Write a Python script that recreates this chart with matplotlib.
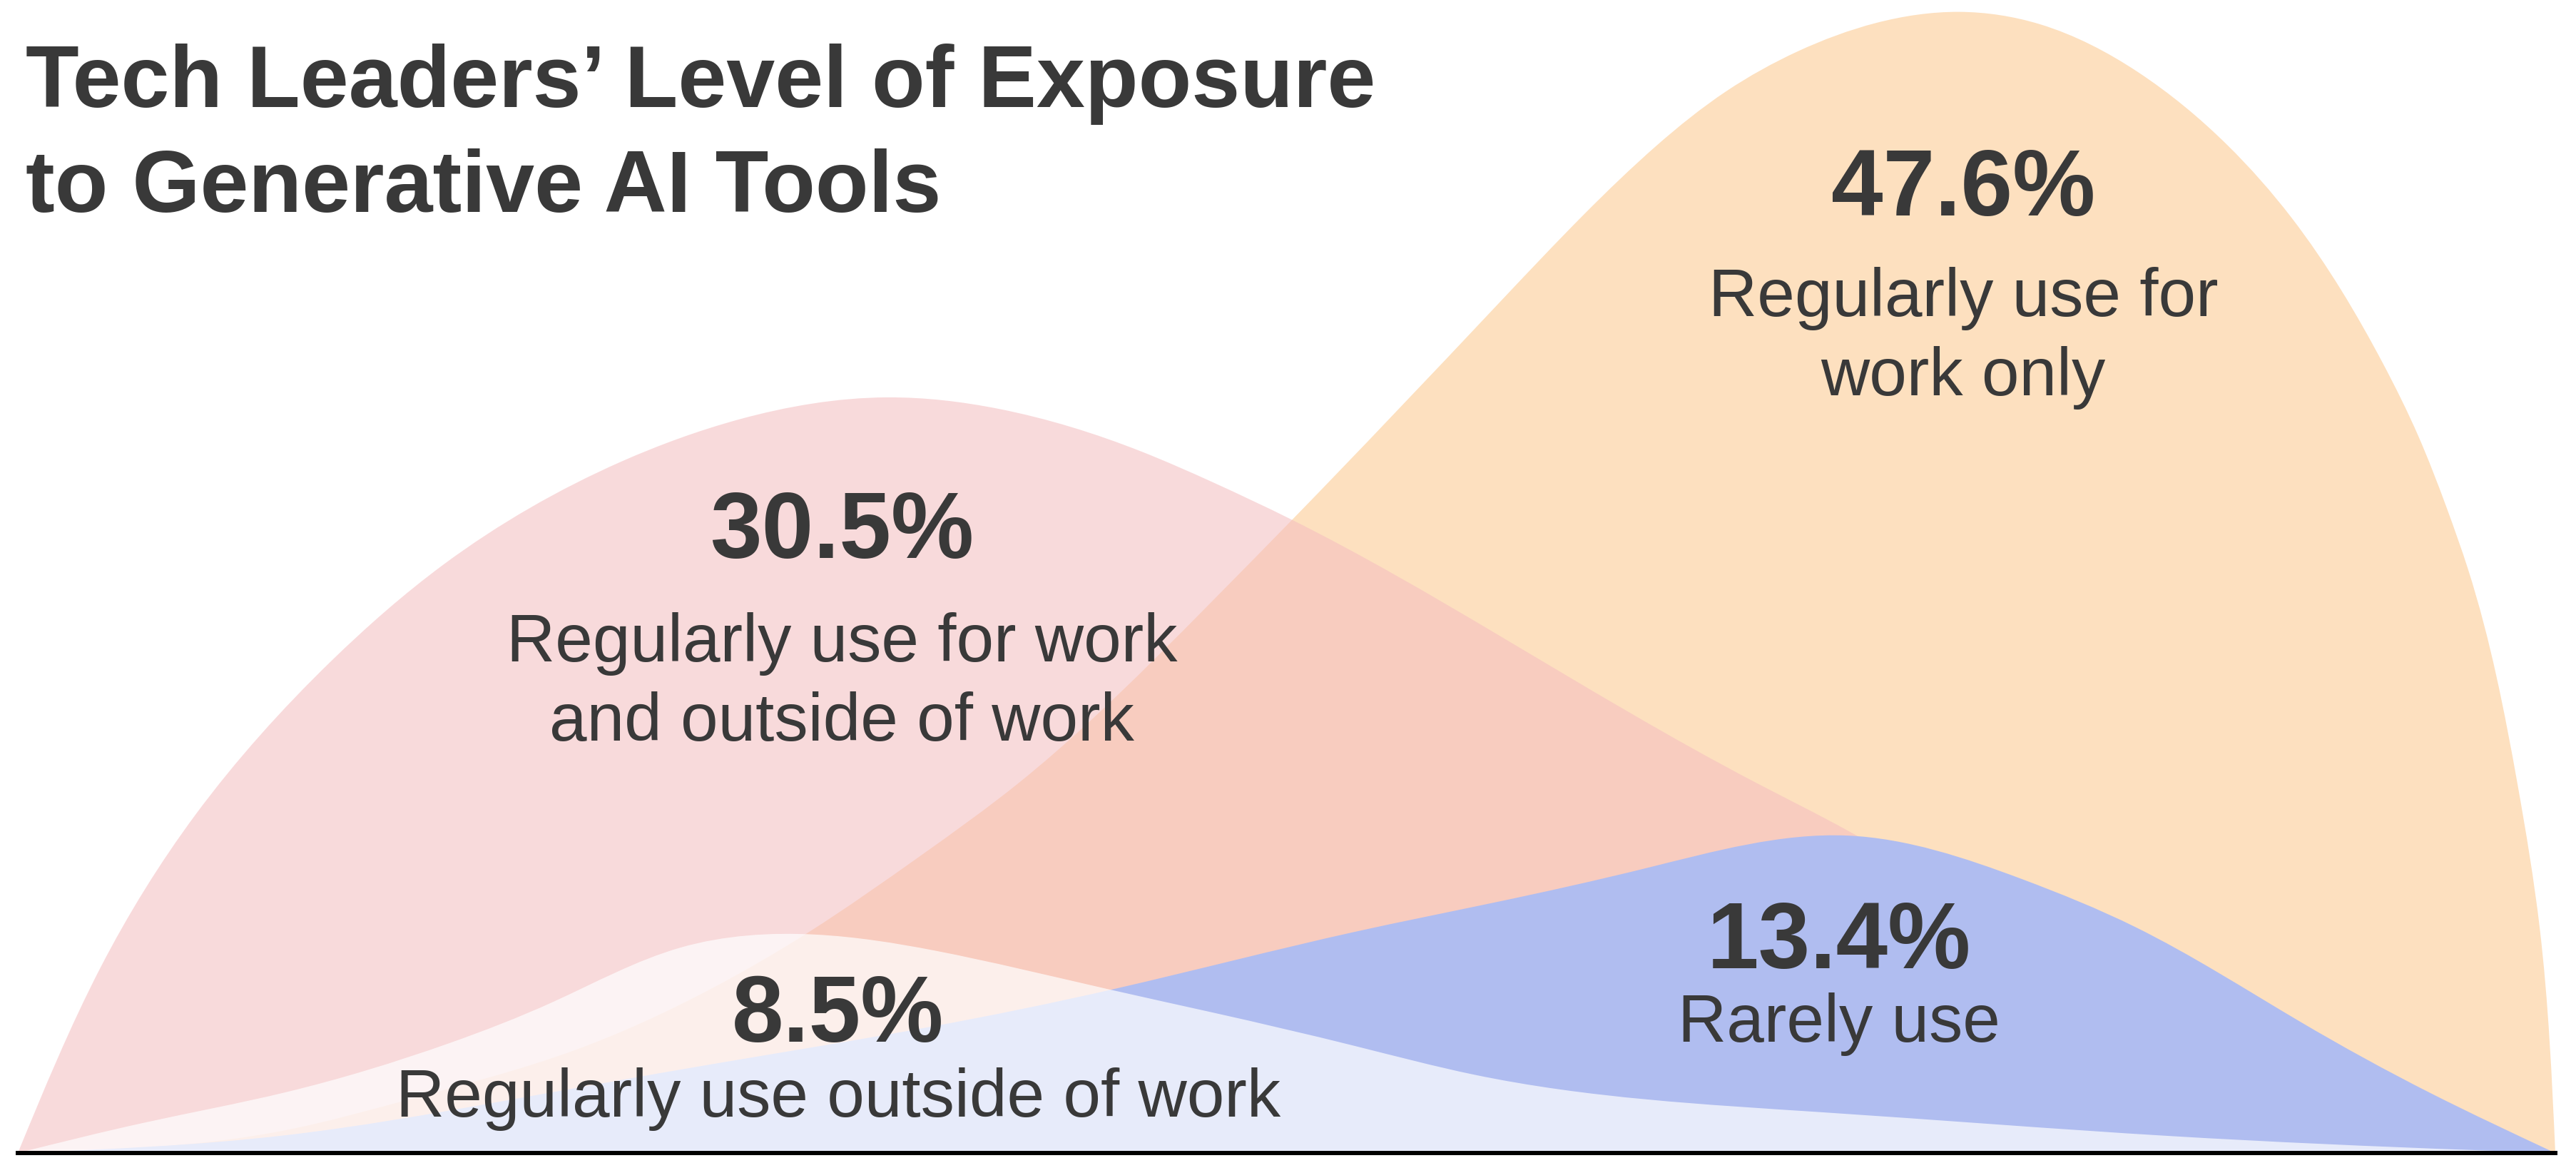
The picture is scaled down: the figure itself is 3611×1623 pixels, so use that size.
import numpy as np
import matplotlib
matplotlib.use("Agg")
import matplotlib.pyplot as plt
from matplotlib.path import Path
from matplotlib.patches import PathPatch

plt.rcParams['font.family'] = ['Liberation Sans', 'DejaVu Sans']

# ---------------- data ----------------
title_lines = ["Tech Leaders\u2019 Level of Exposure", "to Generative AI Tools"]

categories = ["Regularly use for\nwork only",
              "Regularly use for work\nand outside of work",
              "Rarely use",
              "Regularly use outside of work"]
values = [47.6, 30.5, 13.4, 8.5]

# curve outlines (x: 0-100 along the baseline, y: % scale)
orange_x = [0, 10.54, 15.6, 21.79, 27.41, 31.15, 35.59, 39.39, 42.31, 47.09, 50.18, 58.34, 61.71, 64.58, 67.33,
            70.14, 73.24, 76.5, 79.70, 83.55, 87.07, 89.60, 91.57, 93.20, 94.60, 95.73, 96.57, 98.51, 99.38, 100]
orange_y = [0, 0.95, 2.29, 4.23, 6.9, 9.2, 12.41, 15.39, 18.07, 23.04, 26.37, 35.42, 39.14, 42.02, 44.29,
            45.95, 47.14, 47.6, 47.08, 45.09, 42.05, 39.02, 35.98, 32.95, 29.91, 26.88, 24.32, 15.39, 9.43, 0]

pink_x = [0, 3.26, 7.0, 12.34, 16.78, 23.78, 28.42, 34.27, 38.66, 44.28, 47.09, 50.18, 58.34, 68.6, 72.11, 78.0, 86.45, 94.88, 100]
pink_y = [0, 7.74, 14.11, 20.51, 24.55, 28.84, 30.60, 31.52, 31.04, 29.26, 27.98, 26.43, 21.61, 15.39, 13.45, 9.73, 5.27, 1.70, 0]

blue_x = [0, 10.54, 18.98, 27.27, 35.84, 43.24, 52.71, 58.06, 64.24, 72.11, 78.97, 83.44, 89.94, 95.08, 100]
blue_y = [0, 0.74, 2.14, 3.69, 5.24, 6.85, 9.23, 10.42, 11.9, 13.24, 11.43, 9.43, 5.48, 2.5, 0]

white_x = [0, 4.92, 10.54, 17.0, 21.11, 26.12, 31.46, 36.1, 42.9, 47.09, 52.71, 57.38, 71.1, 84.79, 96.8, 100]
white_y = [0, 1.25, 2.53, 4.58, 6.31, 8.57, 9.11, 8.45, 6.85, 5.86, 4.46, 3.27, 1.7, 0.71, 0.12, 0]

# ---------------- style ----------------
TXT = "#393939"
W, H = 3612, 1624
XS, YS = 35.57, 33.6          # pixels per data unit on each axis
fig = plt.figure(figsize=(W / 100, H / 100), dpi=100)
fig.patch.set_facecolor("white")

ax = fig.add_axes([25 / W, 7 / H, 3557 / W, 1617 / H])
ax.set_xlim(0, 100)
ax.set_ylim(0, 1617 / YS)
ax.set_facecolor("none")
for s in ["top", "left", "right"]:
    ax.spines[s].set_visible(False)
ax.spines["bottom"].set_linewidth(4.3)
ax.spines["bottom"].set_color("black")
ax.spines["bottom"].set_zorder(10)
ax.set_xticks([])
ax.set_yticks([])


def natural_slopes(t, v):
    n = len(t)
    h = np.diff(t)
    A = np.zeros((n, n))
    b = np.zeros(n)
    A[0, 0] = 1.0
    A[-1, -1] = 1.0
    for i in range(1, n - 1):
        A[i, i - 1] = h[i - 1]
        A[i, i] = 2 * (h[i - 1] + h[i])
        A[i, i + 1] = h[i]
        b[i] = 6 * ((v[i + 1] - v[i]) / h[i] - (v[i] - v[i - 1]) / h[i - 1])
    M = np.linalg.solve(A, b)
    d = np.zeros(n)
    for i in range(n - 1):
        d[i] = (v[i + 1] - v[i]) / h[i] - h[i] * (2 * M[i] + M[i + 1]) / 6
    d[-1] = (v[-1] - v[-2]) / h[-1] + h[-1] * (M[-2] + 2 * M[-1]) / 6
    return d


def smooth_area(xs, ys):
    x = np.asarray(xs, float)
    y = np.asarray(ys, float)
    seg = np.hypot(np.diff(x) * XS, np.diff(y) * YS)
    t = np.concatenate([[0], np.cumsum(seg)])
    dx = natural_slopes(t, x)
    dy = natural_slopes(t, y)
    verts = [(x[0], y[0])]
    codes = [Path.MOVETO]
    for i in range(len(x) - 1):
        h = t[i + 1] - t[i]
        verts += [(x[i] + dx[i] * h / 3, y[i] + dy[i] * h / 3),
                  (x[i + 1] - dx[i + 1] * h / 3, y[i + 1] - dy[i + 1] * h / 3),
                  (x[i + 1], y[i + 1])]
        codes += [Path.CURVE4] * 3
    verts += [(x[0], y[0]), (x[0], y[0])]
    codes += [Path.LINETO, Path.CLOSEPOLY]
    return Path(verts, codes)


ax.add_patch(PathPatch(smooth_area(orange_x, orange_y), facecolor="#FDE0BF", edgecolor="none", zorder=1))
ax.add_patch(PathPatch(smooth_area(pink_x, pink_y), facecolor="#F4BCBF", alpha=0.55, edgecolor="none", zorder=2))
ax.add_patch(PathPatch(smooth_area(blue_x, blue_y), facecolor="#B0BDF0", edgecolor="none", zorder=3))
ax.add_patch(PathPatch(smooth_area(white_x, white_y), facecolor="white", alpha=0.7, edgecolor="none", zorder=4))

# ---------------- text ----------------
def fx(px):
    return px / W


def fy(py):
    return 1 - py / H


fig.text(fx(36), fy(150), title_lines[0], fontsize=88, fontweight="bold", color=TXT, ha="left", va="baseline")
fig.text(fx(36), fy(297), title_lines[1], fontsize=88, fontweight="bold", color=TXT, ha="left", va="baseline")

# label anchors (pixel layout): value baseline, first sub-line baseline
label_pos = [(2752, 302, 443), (1180, 782, 927), (2578, 1357, 1460), (1175, 1460, 1565)]
for cat, val, (cx, yb, ys) in zip(categories, values, label_pos):
    fig.text(fx(cx), fy(yb), f"{val}%", fontsize=94, fontweight="bold", color=TXT,
             ha="center", va="baseline", zorder=20)
    for k, line in enumerate(cat.split("\n")):
        fig.text(fx(cx), fy(ys + k * 111), line, fontsize=68, color=TXT,
                 ha="center", va="baseline", zorder=20)

fig.savefig("out.png", dpi=100)
